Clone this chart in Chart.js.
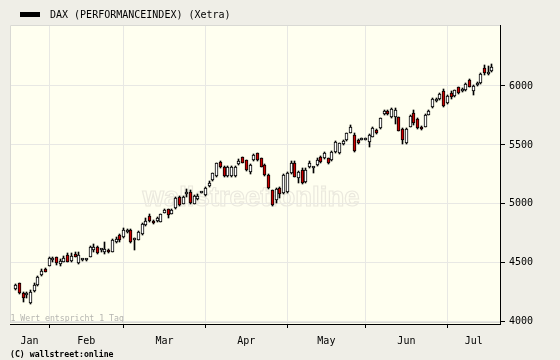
<!DOCTYPE html>
<html><head><meta charset="utf-8">
<script src="https://cdn.jsdelivr.net/npm/chart.js@4.4.0/dist/chart.umd.min.js"></script>
<style>html,body{margin:0;padding:0;background:#efeee7;}#wrap{width:560px;height:360px;position:relative;}</style>
</head><body><div id="wrap"><canvas id="c"></canvas></div>
<script>
const seriesName = 'DAX (PERFORMANCEINDEX) (Xetra)';
const noteText = '1 Wert entspricht 1 Tag';
const footerText = '(C) wallstreet:online';
const watermarkText = 'wallstreet:online';
const monthLabels = ['Jan','Feb','Mar','Apr','May','Jun','Jul'];
const monthStartIdx = [9,29,51,73,94,116];
const yTickValues = [4000,4500,5000,5500,6000];

const open = [4278,4326,4241,4228,4161,4263,4311,4396,4445,
4475,4520,4546,4490,4510,4566,4518,4575,4495,4522,4522,4552,4608,4631,4605,4594,4609,4594,4680,4735,
4716,4758,4778,4690,4693,4744,4818,4897,4852,4855,4848,4925,4954,4914,4962,5060,4999,5084,5103,5002,5041,5092,
5075,5151,5202,5239,5352,5315,5239,5239,5239,5338,5395,5372,5273,5372,5429,5386,5330,5245,5118,5030,5132,5090,
5100,5259,5344,5217,5287,5188,5315,5300,5330,5400,5386,5386,5372,5442,5434,5508,5542,5604,5584,5542,5545,
5543,5527,5570,5627,5641,5762,5790,5740,5740,5734,5632,5519,5655,5773,5717,5655,5655,5754,5824,5870,5887,5960,
5856,5943,5915,5989,5960,5966,6051,5960,6008,6023,6150,6100,6130];
const close = [4315,4241,4204,4238,4255,4311,4377,4433,4425,
4538,4526,4500,4518,4538,4510,4558,4552,4566,4528,4528,4631,4636,4580,4612,4614,4590,4693,4700,4693,
4778,4778,4679,4700,4764,4829,4857,4857,4835,4880,4911,4948,4905,4948,5052,4990,5060,5103,5010,5069,5069,5098,
5132,5179,5259,5344,5315,5239,5315,5315,5315,5364,5349,5287,5330,5414,5372,5315,5245,5132,4990,5130,5084,5245,
5262,5349,5230,5273,5174,5287,5349,5306,5372,5357,5429,5344,5442,5527,5514,5536,5599,5650,5451,5515,5548,
5550,5584,5641,5599,5726,5790,5762,5802,5795,5621,5542,5632,5745,5683,5641,5632,5754,5790,5887,5885,5932,5830,
5915,5904,5966,5938,5966,6017,5994,6000,6022,6102,6108,6115,6164];
const high = [4322,4332,4248,4255,4272,4330,4390,4445,4452,
4548,4545,4552,4530,4560,4582,4580,4588,4592,4530,4530,4640,4660,4645,4620,4680,4620,4700,4720,4742,
4795,4785,4790,4712,4770,4835,4880,4910,4860,4890,4915,4955,4960,4955,5060,5065,5070,5130,5120,5075,5080,5100,
5140,5190,5265,5350,5360,5320,5320,5320,5320,5380,5400,5375,5335,5420,5435,5390,5335,5250,5120,5135,5140,5250,
5270,5360,5360,5280,5300,5300,5360,5315,5385,5405,5440,5390,5450,5535,5520,5545,5605,5669,5600,5550,5555,
5555,5590,5650,5635,5730,5800,5800,5815,5810,5740,5640,5640,5750,5800,5725,5662,5760,5795,5895,5895,5940,5972,
5920,5955,5970,5995,5985,6025,6060,6005,6030,6110,6175,6170,6185];
const low = [4265,4235,4168,4205,4147,4255,4300,4385,4418,
4470,4505,4478,4470,4505,4505,4510,4545,4488,4518,4518,4548,4590,4575,4590,4575,4580,4590,4670,4680,
4710,4750,4670,4610,4690,4735,4810,4850,4825,4850,4845,4920,4880,4910,4955,4980,4995,5060,5000,4995,5035,5088,
5070,5140,5195,5230,5305,5230,5230,5230,5230,5330,5345,5280,5250,5365,5365,5310,5240,5125,4985,5010,5050,5080,
5095,5250,5225,5174,5165,5180,5305,5260,5325,5350,5380,5340,5365,5435,5425,5500,5535,5600,5440,5510,5540,
5538,5480,5565,5595,5635,5755,5755,5730,5680,5615,5508,5510,5650,5670,5635,5625,5650,5750,5815,5862,5880,5825,
5850,5890,5905,5930,5945,5960,5990,5920,6000,6015,6090,6090,6115];

const X_MIN = -1.5, X_MAX = 130.15;
const Y_MIN = 3980.5, Y_MAX = 6517.6;
const bounds = [X_MIN, ...monthStartIdx, X_MAX];
const mids = monthLabels.map((m,k)=>(bounds[k]+bounds[k+1])/2);
const isBoundary = v => monthStartIdx.some(b=>Math.abs(b-v)<1e-6);
const labelFor = v => { const k = mids.findIndex(m=>Math.abs(m-v)<1e-6); return k>=0 ? monthLabels[k] : ''; };

const idx = open.map((_,i)=>i);
const bodies = idx.map(i=>({x:i, y:[open[i], close[i]]}));
const wicks = idx.map(i=>({x:i, y:[low[i], high[i]]}));
const bodyColors = idx.map(i=> close[i] < open[i] ? '#cc0000' : '#ffffff');

const MONO = '"DejaVu Sans Mono", monospace';

const bgPlugin = {
  id:'bg',
  beforeDraw(chart){
    const {ctx, chartArea:a} = chart;
    ctx.save();
    ctx.fillStyle='#efeee7'; ctx.fillRect(0,0,chart.width,chart.height);
    ctx.fillStyle='#fffff0'; ctx.fillRect(a.left,a.top,a.right-a.left,a.bottom-a.top);
    ctx.restore();
  },
  beforeDatasetsDraw(chart){
    const {ctx, chartArea:a} = chart;
    ctx.save();
    ctx.strokeStyle='#d9d9d4'; ctx.lineWidth=1;
    ctx.beginPath();
    ctx.moveTo(a.left+0.5, a.bottom-2); ctx.lineTo(a.left+0.5, a.top+0.5); ctx.lineTo(a.right, a.top+0.5);
    ctx.moveTo(a.left, a.bottom-1.5); ctx.lineTo(a.right, a.bottom-1.5);
    ctx.stroke();
    ctx.font = 'bold 30px "Liberation Sans", Arial, sans-serif';
    const w = ctx.measureText(watermarkText).width;
    const size = 30*217/w;
    ctx.font = 'bold '+size.toFixed(1)+'px "Liberation Sans", Arial, sans-serif';
    ctx.textAlign='center'; ctx.textBaseline='alphabetic';
    ctx.strokeStyle='#ebe9de'; ctx.lineWidth=1.2;
    ctx.strokeText(watermarkText, 251, 206);
    ctx.beginPath(); ctx.rect(a.left, a.top, a.right-a.left, a.bottom-a.top-2); ctx.clip();
    ctx.font = '8.2px '+MONO; ctx.textAlign='left'; ctx.fillStyle='#b5b5b0';
    ctx.fillText(noteText, a.left+0.5, 321);
    ctx.restore();
    chart.data.datasets.forEach((ds,di)=>{
      const meta = chart.getDatasetMeta(di);
      meta.data.forEach(el=>{
        el.x = Math.floor(el.x)+0.5;
        let y = Math.round(el.y), b = Math.round(el.base);
        if (di===0 && Math.abs(y-b)<2) b = y + (b>=y?2:-2);
        el.y = y; el.base = b; el.height = b-y;
      });
    });
  },
  afterDraw(chart){
    const {ctx} = chart;
    ctx.save();
    ctx.fillStyle='#000';
    ctx.fillRect(20,12,20,5);
    ctx.font='10px '+MONO; ctx.textBaseline='alphabetic'; ctx.textAlign='left';
    ctx.fillText(seriesName, 50, 18);
    ctx.font='bold 8.2px '+MONO;
    ctx.fillText(footerText, 10, 357);
    ctx.restore();
  }
};

new Chart(document.getElementById('c'), {
  type:'bar',
  data:{ datasets:[
    { label:seriesName, data:bodies, backgroundColor:bodyColors, borderColor:'#000', borderWidth:1,
      borderSkipped:false, barThickness:3, minBarLength:2, grouped:false, order:0 },
    { label:'range', data:wicks, backgroundColor:'#000', borderWidth:0, barThickness:1, grouped:false, order:1 }
  ]},
  options:{
    responsive:true, maintainAspectRatio:false, animation:false, devicePixelRatio:1,
    layout:{ padding:{left:10, top:25, right:0, bottom:0} },
    plugins:{ legend:{display:false}, tooltip:{enabled:false} },
    scales:{
      x:{ type:'linear', position:'bottom', min:X_MIN, max:X_MAX, offset:false,
        afterBuildTicks: s => { s.ticks = [...monthStartIdx, ...mids].sort((a,b)=>a-b).map(v=>({value:v})); },
        afterFit: s => { s.height = 36; },
        ticks:{ autoSkip:false, maxRotation:0, minRotation:0, padding:7, color:'#000',
          font:{family:'DejaVu Sans Mono', size:10}, callback: v => labelFor(v) },
        grid:{ offset:false, color: c => (c.tick && isBoundary(c.tick.value)) ? '#e8e8e4' : 'rgba(0,0,0,0)',
          tickColor: c => (c.tick && isBoundary(c.tick.value)) ? '#000' : 'rgba(0,0,0,0)',
          tickLength:4, lineWidth:1 },
        border:{ color:'#000', width:1 }
      },
      y:{ type:'linear', position:'right', min:Y_MIN, max:Y_MAX,
        afterBuildTicks: s => { s.ticks = yTickValues.map(v=>({value:v})); },
        afterFit: s => { s.width = 60; },
        ticks:{ padding:4, color:'#000', font:{family:'DejaVu Sans Mono', size:10}, callback: v => String(v) },
        grid:{ offset:false, color:'#e8e8e4', tickColor:'#000', tickLength:5, lineWidth:1 },
        border:{ color:'#000', width:1 }
      }
    }
  },
  plugins:[bgPlugin]
});
</script>
</body></html>
